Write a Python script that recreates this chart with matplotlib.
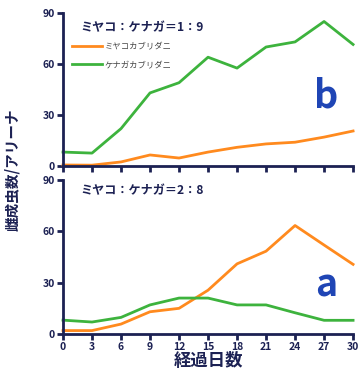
import matplotlib.pyplot as plt

plt.rcParams['font.family'] = ['Noto Sans CJK JP', 'DejaVu Sans']

# 経過日数
days = [0, 3, 6, 9, 12, 15, 18, 21, 24, 27, 30]

# ミヤコ：ケナガ = 1：9
miyako_19 = [0.6, 0.5, 2.4, 6.5, 4.7, 8.2, 11, 13, 14, 17, 20.6]
kenaga_19 = [8.2, 7.6, 22, 43, 49, 64, 57.6, 70, 73, 85, 71.5]

# ミヤコ：ケナガ = 2：8
miyako_28 = [2, 2, 5.8, 13, 15, 25.6, 41, 48.4, 63.4, 52, 40.7]
kenaga_28 = [8.1, 7, 9.7, 17, 21, 21, 17, 17, 12.4, 8, 8]

yticks = [0, 30, 60, 90]

NAVY = '#1c2153'
ORANGE = '#ff8a1e'
GREEN = '#3db33d'
BLUE = '#1f45b5'

fig = plt.figure(figsize=(3.59, 3.78), dpi=100)
ax_top = fig.add_axes([0.1755, 0.5608, 0.808, 0.4048])
ax_bot = fig.add_axes([0.1755, 0.1164, 0.808, 0.4074])


def style(ax, show_xlabels):
    ax.set_xlim(0, 30)
    ax.set_ylim(0, 90)
    ax.set_xticks(days)
    ax.set_yticks(yticks)
    for s in ['top', 'right']:
        ax.spines[s].set_visible(False)
    for s in ['left', 'bottom']:
        ax.spines[s].set_linewidth(2)
        ax.spines[s].set_color(NAVY)
    ax.tick_params(direction='out', length=4, width=2, color=NAVY,
                   labelsize=7.5, labelcolor=NAVY, pad=2)
    for lab in ax.get_xticklabels() + ax.get_yticklabels():
        lab.set_fontweight('bold')
    if not show_xlabels:
        ax.set_xticklabels([])


# 上段：1：9
ax_top.plot(days, miyako_19, color=ORANGE, lw=2, label='ミヤコカブリダニ', clip_on=False)
ax_top.plot(days, kenaga_19, color=GREEN, lw=2, label='ケナガカブリダニ', clip_on=False)
style(ax_top, False)
ax_top.text(0.06, 0.905, 'ミヤコ：ケナガ＝1：9', transform=ax_top.transAxes,
            fontsize=8.7, fontweight='bold', color=NAVY, va='center')
ax_top.legend(loc='upper left', bbox_to_anchor=(0.015, 0.845), frameon=False,
              fontsize=6, handlelength=3.6, handletextpad=0.3,
              labelspacing=1.15, borderaxespad=0.2, labelcolor='#444444')
ax_top.text(0.906, 0.46, 'b', transform=ax_top.transAxes, fontsize=27,
            color=BLUE, ha='center', va='center', fontweight='bold')

# 下段：2：8
ax_bot.plot(days, miyako_28, color=ORANGE, lw=2, clip_on=False)
ax_bot.plot(days, kenaga_28, color=GREEN, lw=2, clip_on=False)
style(ax_bot, True)
ax_bot.text(0.06, 0.93, 'ミヤコ：ケナガ＝2：8', transform=ax_bot.transAxes,
            fontsize=8.7, fontweight='bold', color=NAVY, va='center')
ax_bot.text(0.906, 0.32, 'a', transform=ax_bot.transAxes, fontsize=27,
            color=BLUE, ha='center', va='center', fontweight='bold')
ax_bot.set_xlabel('経過日数', fontsize=12.5, fontweight='bold', color=NAVY, labelpad=0)

fig.text(0.035, 0.55, '雌成虫数/アリーナ', rotation=90, fontsize=10.5,
         fontweight='bold', color=NAVY, ha='center', va='center')

plt.savefig('out.png', dpi=100)
